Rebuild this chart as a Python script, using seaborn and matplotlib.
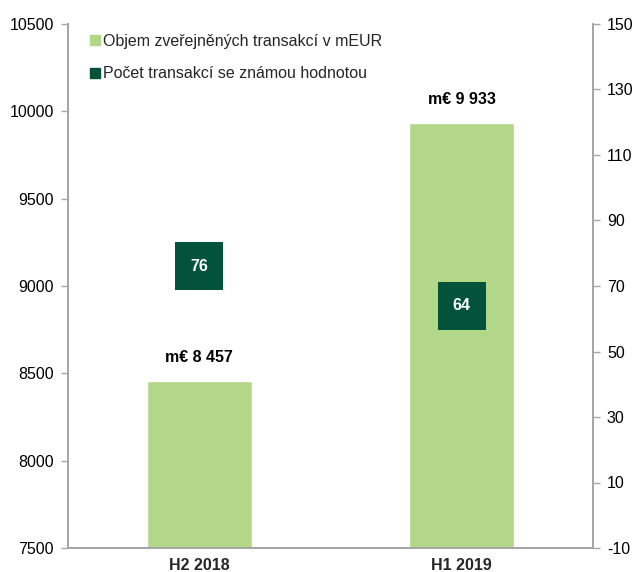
import matplotlib
matplotlib.use("Agg")
import matplotlib.pyplot as plt
import seaborn as sns
import pandas as pd
from matplotlib.lines import Line2D

# data
periods = ["H2 2018", "H1 2019"]
volume_meur = [8457, 9933]
deal_count = [76, 64]
volume_labels = ["m€ 8 457", "m€ 9 933"]

light_green = "#B3D789"
dark_green = "#02533A"
axis_gray = "#A6A6A6"

sns.set_style("white")
plt.rcParams['font.family'] = ['Liberation Sans', 'DejaVu Sans']
plt.rcParams['axes.unicode_minus'] = False

df = pd.DataFrame({"period": periods, "volume": volume_meur, "count": deal_count})

fig = plt.figure(figsize=(6.33, 5.72), dpi=100)
ax = fig.add_axes([68 / 633, 24 / 572, 525 / 633, 524 / 572])

sns.barplot(data=df, x="period", y="volume", color=light_green, width=0.4,
            saturation=1, ax=ax, zorder=2)
ax.set_ylim(7500, 10500)
ax.set_yticks(range(7500, 10501, 500))
ax.set_xlim(-0.5, 1.5)
ax.set_xlabel("")
ax.set_ylabel("")

for i, lab in enumerate(volume_labels):
    ax.text(i, volume_meur[i] + 90, lab, ha="center", va="bottom",
            fontsize=11.5, fontweight="bold", color="black")

ax2 = ax.twinx()
sns.scatterplot(data=df, x="period", y="count", marker="s", s=34 ** 2,
                color=dark_green, edgecolor=dark_green, linewidth=0, ax=ax2,
                zorder=3, legend=False)
ax2.set_ylim(-10, 150)
ax2.set_yticks(range(-10, 151, 20))
ax2.set_xlim(-0.5, 1.5)
ax2.set_ylabel("")
ax2.set_xlabel("")
for i, v in enumerate(deal_count):
    ax2.text(i, v, str(v), ha="center", va="center", fontsize=11.5,
             fontweight="bold", color="white", zorder=4)

for a in (ax, ax2):
    for s in a.spines.values():
        s.set_color(axis_gray)
        s.set_linewidth(1.3)
    a.spines["top"].set_visible(False)
    a.tick_params(axis="y", length=5, width=1, color=axis_gray, labelsize=11.5,
                  labelcolor="black", direction="out", pad=5)

ax.tick_params(axis="x", length=0, labelsize=11.5, pad=7)
for t in ax.get_xticklabels():
    t.set_fontweight("bold")
ax.tick_params(axis="y", left=True)
ax2.tick_params(axis="y", right=True)

handles = [
    Line2D([], [], marker="s", linestyle="", color=light_green, markersize=7),
    Line2D([], [], marker="s", linestyle="", color=dark_green, markersize=7),
]
ax.legend(handles, ["Objem zveřejněných transakcí v mEUR",
                    "Počet transakcí se známou hodnotou"],
          loc="upper left", bbox_to_anchor=(0.025, 1.0), frameon=False,
          fontsize=11.5, handlelength=0.5, handletextpad=0.25, labelspacing=1.1,
          borderaxespad=0.2)

fig.savefig("out.png", dpi=100)
